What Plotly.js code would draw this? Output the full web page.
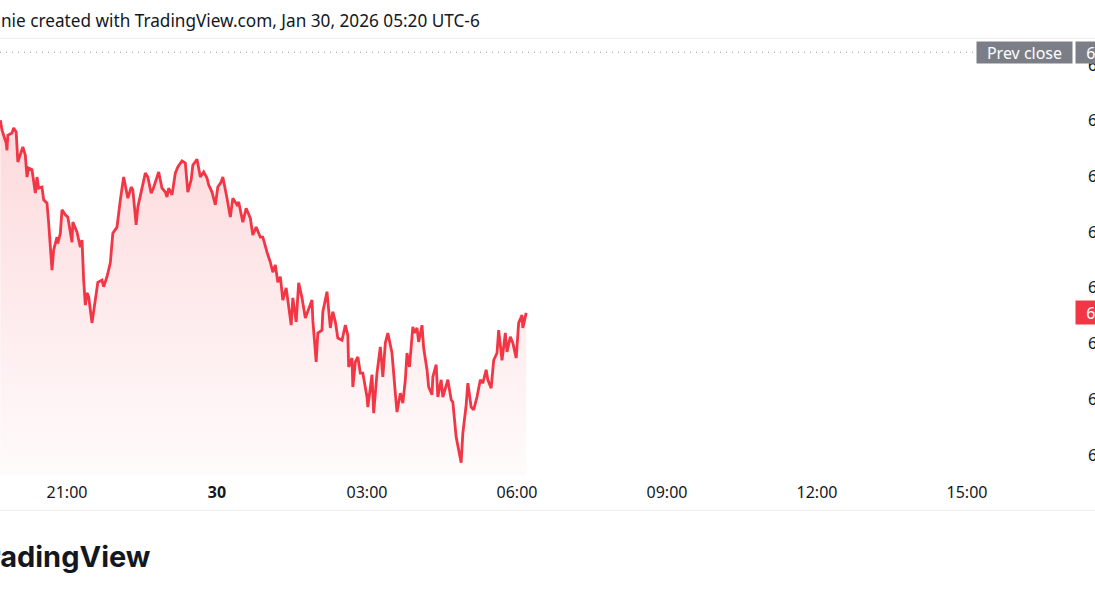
<!DOCTYPE html>
<html>
<head>
<meta charset="utf-8">
<script src="https://cdn.plot.ly/plotly-3.0.1.min.js"></script>
<style>
html,body{margin:0;padding:0;background:#fff;overflow:hidden;}
#chart{width:1095px;height:600px;}
</style>
</head>
<body>
<div id="chart"></div>
<script>
// ---- data ----
const times = ["19:40","19:42","19:47","19:48","19:49","19:54","19:56","19:59","20:01","20:05","20:07","20:10","20:12","20:14","20:18","20:22","20:24","20:26","20:30","20:32","20:36","20:38","20:42","20:44","20:48","20:49","20:52","20:54","20:58","21:01","21:06","21:07","21:12","21:16","21:18","21:20","21:22","21:24","21:26","21:30","21:34","21:37","21:42","21:44","21:48","21:52","21:55","22:00","22:04","22:08","22:13","22:17","22:19","22:23","22:25","22:30","22:34","22:37","22:41","22:43","22:47","22:50","22:54","22:58","23:00","23:02","23:06","23:10","23:13","23:18","23:22","23:25","23:29","23:31","23:36","23:40","23:44","23:48","23:50","23:54","23:58","00:01","00:05","00:07","00:12","00:16","00:19","00:24","00:26","00:31","00:35","00:40","00:43","00:47","00:52","00:55","01:00","01:04","01:07","01:10","01:13","01:16","01:19","01:23","01:25","01:29","01:31","01:35","01:38","01:42","01:46","01:49","01:54","01:55","01:59","02:01","02:06","02:07","02:12","02:16","02:19","02:22","02:25","02:30","02:34","02:37","02:38","02:42","02:43","02:46","02:49","02:52","02:55","03:00","03:01","03:06","03:08","03:12","03:16","03:19","03:22","03:25","03:30","03:34","03:36","03:40","03:43","03:46","03:48","03:51","03:55","03:57","04:00","04:02","04:06","04:08","04:12","04:14","04:18","04:19","04:23","04:25","04:29","04:31","04:35","04:37","04:41","04:43","04:47","04:49","04:53","04:55","04:59","05:01","05:05","05:08","05:12","05:16","05:19","05:23","05:25","05:29","05:32","05:36","05:38","05:42","05:46","05:48","05:52","05:55","05:59","06:02","06:06","06:07","06:11"];

const prices = [6950.1,6948.3,6946.0,6944.7,6947.4,6947.8,6948.7,6948.0,6942.6,6944.2,6945.3,6943.8,6939.9,6941.5,6941.2,6937.0,6939.9,6937.9,6938.1,6935.8,6935.2,6931.6,6923.2,6926.8,6929.1,6928.0,6929.8,6934.0,6933.1,6932.7,6928.2,6931.8,6930.0,6927.3,6928.6,6921.4,6916.9,6919.1,6918.4,6913.7,6917.8,6921.0,6921.4,6920.2,6922.0,6924.5,6929.8,6930.9,6935.8,6939.9,6936.1,6938.1,6937.6,6931.3,6934.5,6938.1,6940.6,6939.9,6937.0,6937.6,6939.4,6940.8,6937.9,6937.2,6936.3,6937.9,6936.7,6940.6,6941.7,6942.8,6942.4,6937.2,6939.4,6942.0,6943.1,6939.9,6940.8,6939.7,6938.5,6937.2,6934.9,6938.1,6939.0,6939.9,6936.1,6932.7,6936.1,6934.9,6935.4,6931.8,6934.3,6932.5,6929.5,6930.9,6929.1,6929.1,6926.4,6924.6,6922.8,6924.1,6921.0,6922.0,6917.8,6920.0,6917.8,6913.3,6918.2,6913.9,6920.9,6918.2,6914.6,6915.7,6917.8,6914.2,6906.7,6911.9,6912.4,6915.7,6919.3,6912.8,6915.7,6913.9,6911.0,6910.6,6913.3,6911.5,6905.8,6907.4,6902.2,6906.7,6907.6,6904.7,6904.7,6900.4,6898.6,6904.4,6897.5,6904.7,6909.4,6904.0,6910.1,6911.9,6908.3,6901.1,6897.7,6901.1,6899.3,6903.5,6908.3,6905.8,6913.0,6911.9,6912.8,6910.3,6913.3,6909.2,6905.3,6902.2,6900.8,6904.0,6906.2,6900.4,6903.5,6900.4,6902.2,6903.5,6899.9,6899.5,6893.2,6891.8,6888.6,6893.9,6899.0,6902.9,6898.6,6898.1,6900.4,6903.5,6902.9,6905.3,6903.5,6902.0,6907.0,6908.3,6912.4,6907.0,6911.9,6908.5,6911.2,6910.1,6907.4,6913.7,6915.1,6912.8,6915.5];

const prevClose = 6962.3;
const priceTicks = [6890,6900,6910,6920,6930,6940,6950,6960];
const timeTickVals = ["2026-01-29 21:00","2026-01-30 00:00","2026-01-30 03:00","2026-01-30 06:00","2026-01-30 09:00","2026-01-30 12:00","2026-01-30 15:00"];
const timeTickText = ["21:00","<b>30</b>","03:00","06:00","09:00","12:00","15:00"];
const headerText = "nie created with TradingView.com, Jan 30, 2026 05:20 UTC-6";

// ---- build datetimes (session starts on Jan 29 evening) ----
const xs = times.map(t => {
  const h = parseInt(t.slice(0,2),10);
  return (h >= 18 ? "2026-01-29 " : "2026-01-30 ") + t;
});

// ---- layout geometry ----
const W = 1095, H = 600;
const M = {l:0, r:21, t:40, b:125};
const plotW = W - M.l - M.r, plotH = H - M.t - M.b;
const px = p => (p - M.l) / plotW;          // pixel x -> paper
const py = p => (H - M.b - p) / plotH;      // pixel y -> paper
const yMin = 6886.4, yMax = 6964.5;

const fmt = v => v.toLocaleString('en-US',{minimumFractionDigits:2, maximumFractionDigits:2});
const FONT = "Noto Sans, Open Sans, sans-serif";
const RED = "#f23645";
const last = prices[prices.length-1];

const trace = {
  x: xs, y: prices, type: 'scatter', mode: 'lines',
  line: {color: RED, width: 2.8, shape: 'linear'},
  fill: 'tozeroy',
  fillgradient: {type: 'vertical', start: yMin, stop: Math.max(...prices),
    colorscale: [[0,'rgba(242,54,69,0.02)'],[1,'rgba(242,54,69,0.19)']]},
  hoverinfo: 'skip'
};

const layout = {
  width: W, height: H,
  margin: {l:M.l, r:M.r, t:M.t, b:M.b, pad:0},
  paper_bgcolor: '#ffffff', plot_bgcolor: '#ffffff',
  showlegend: false,
  xaxis: {
    type: 'date',
    range: ["2026-01-29 19:39:36","2026-01-30 17:08:24"],
    tickvals: timeTickVals, ticktext: timeTickText,
    showgrid: false, zeroline: false, showline: false, ticks: '',
    ticklabelstandoff: 6,
    tickfont: {family: FONT, size: 16, color: '#131722'},
    fixedrange: true
  },
  yaxis: {
    side: 'right', range: [yMin, yMax],
    tickvals: priceTicks, ticktext: priceTicks.map(fmt),
    showgrid: false, zeroline: false, showline: false, ticks: '',
    ticklabelstandoff: 13,
    tickfont: {family: FONT, size: 16, color: '#131722'},
    fixedrange: true
  },
  shapes: [
    {type:'line', xref:'paper', yref:'paper', x0:0, x1:px(W), y0:py(38.5), y1:py(38.5),
     line:{color:'#eceef2', width:1}},
    {type:'line', xref:'paper', yref:'paper', x0:0, x1:px(W), y0:py(510.5), y1:py(510.5),
     line:{color:'#eceef2', width:1}},
    {type:'line', xref:'paper', yref:'y', x0:0, x1:px(976), y0:prevClose, y1:prevClose,
     line:{color:'#9598a1', width:1, dash:'1px,5px'}}
  ],
  annotations: [
    {xref:'paper', yref:'paper', x:px(-1), y:py(21), xanchor:'left', yanchor:'middle',
     text: headerText, showarrow:false, font:{family:FONT, size:17.2, color:'#131722'}},
    {xref:'paper', yref:'y', x:px(1073), y:prevClose, xanchor:'right', yanchor:'middle',
     text:'Prev close', showarrow:false, bgcolor:'#7b7e86', borderpad:2, width:91, height:17,
     font:{family:FONT, size:16, color:'#ffffff'}},
    {xref:'paper', yref:'y', x:px(1075), y:prevClose, xanchor:'left', yanchor:'middle',
     text: fmt(prevClose), showarrow:false, bgcolor:'#7b7e86', borderpad:2, width:80, height:17,
     font:{family:FONT, size:16, color:'#ffffff'}},
    {xref:'paper', yref:'y', x:px(1075), y:last, xanchor:'left', yanchor:'middle',
     text: fmt(last), showarrow:false, bgcolor:RED, borderpad:2, width:80, height:19,
     font:{family:FONT, size:16, color:'#ffffff'}},
    {xref:'paper', yref:'paper', x:px(153), y:py(556), xanchor:'right', yanchor:'middle',
     text:'<b>TradingView</b>', showarrow:false,
     font:{family:'Inter, Roboto, sans-serif', size:29, color:'#131722'}}
  ]
};

Plotly.newPlot('chart', [trace], layout, {staticPlot: true, displayModeBar: false});
</script>
</body>
</html>
